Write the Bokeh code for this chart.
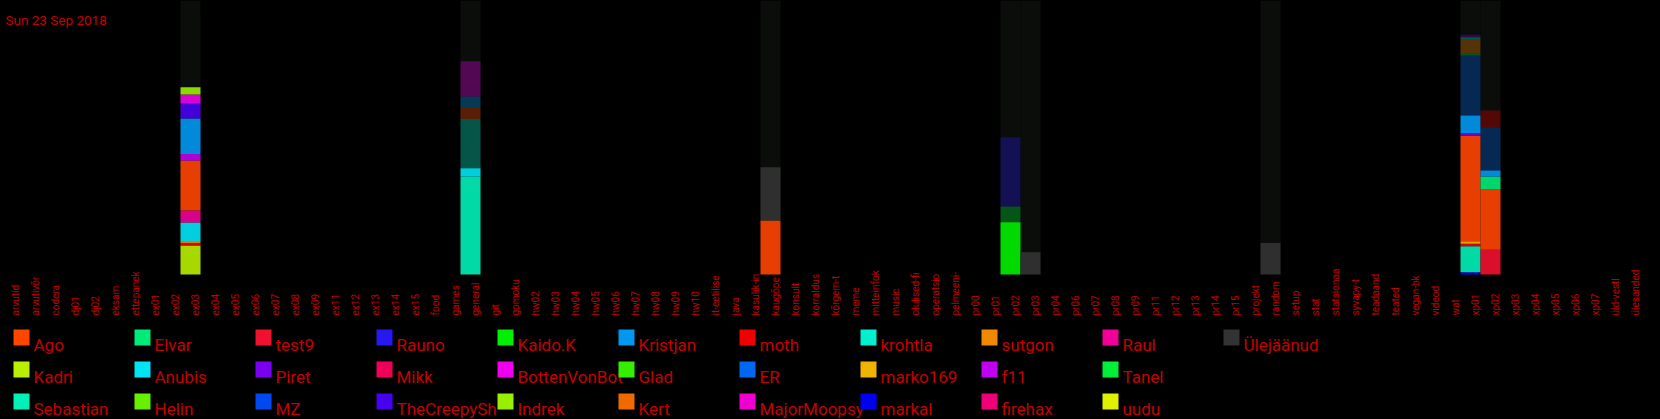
import numpy as np
from bokeh.plotting import figure
from bokeh.models import ColumnDataSource, Range1d, GlobalInlineStyleSheet
from bokeh.core.properties import value
from bokeh.embed import file_html
from bokeh.resources import INLINE

# ---------------- data ----------------
title_text = "Sun 23 Sep 2018"

channels = [
    "arvutid", "arvutivõr", "codera", "dj01", "dj02", "eksam", "ettepanek",
    "ex01", "ex02", "ex03", "ex04", "ex05", "ex06", "ex07", "ex08", "ex09",
    "ex11", "ex12", "ex13", "ex14", "ex15", "food", "games", "general", "git",
    "gomoku", "hw02", "hw03", "hw04", "hw05", "hw06", "hw07", "hw08", "hw09",
    "hw10", "it-eetilise", "java", "kasulik-in", "kaugõpe", "konsult",
    "korraldus", "kõrgem-t", "meme", "mitteinfok", "music", "olulised-fi",
    "operatsio", "pelmeeni-", "pr00", "pr01", "pr02", "pr03", "pr04", "pr06",
    "pr07", "pr08", "pr09", "pr11", "pr12", "pr13", "pr14", "pr15", "projekt",
    "random", "setup", "stat", "statsionaa", "syvapy-t", "teadaand", "teated",
    "vegan-bk", "videod", "wat", "xp01", "xp02", "xp03", "xp04", "xp05",
    "xp06", "xp07", "üld-vestl", "ülesanded",
]

# legend order (column-major, 3 rows per column)
users = [
    "Ago", "Kadri", "Sebastian",
    "Elvar", "Anubis", "Helin",
    "test9", "Piret", "MZ",
    "Rauno", "Mikk", "TheCreepySh",
    "Kaido.K", "BottenVonBot", "Indrek",
    "Kristjan", "Glad", "Kert",
    "moth", "ER", "MajorMoopsy",
    "krohtla", "marko169", "markal",
    "sutgon", "f11", "firehax",
    "Raul", "Tanel", "uudu",
    "Ülejäänud",
]
user_colors = [
    "#ff4400", "#b8f000", "#00f0b8",
    "#00ec78", "#00e4f4", "#66f000",
    "#f01030", "#7a00f0", "#0048f0",
    "#2818f0", "#f00058", "#4800f0",
    "#00f000", "#ee00ee", "#98f000",
    "#0098f0", "#34f000", "#f06a00",
    "#f00000", "#0068f0", "#f000d0",
    "#00f0d0", "#f0b400", "#0000f0",
    "#f08800", "#c000f0", "#f00078",
    "#f00098", "#00f038", "#e0f000",
    "#333333",
]

# total (background column) per active channel
active_channels = ["ex03", "general", "kaugõpe", "pr02", "pr03", "random", "xp01", "xp02"]
channel_totals = [274, 274, 274, 274, 274, 274, 274, 274]

# stacks, bottom to top: (user, count, faded)
ex03_users = ["Kadri", "moth", "sutgon", "Anubis", "Raul", "Ago", "f11", "Kristjan", "TheCreepySh", "BottenVonBot", "Indrek"]
ex03_counts = [29, 2.5, 2, 18.5, 12, 50, 6.5, 35.5, 15, 9, 7.3]
ex03_faded = [0, 0, 0, 0, 0, 0, 0, 0, 0, 0, 0]

general_users = ["Sebastian", "Anubis", "krohtla", "Ago", "Kristjan", "BottenVonBot"]
general_counts = [98, 8.3, 49.2, 12, 10.5, 35.3]
general_faded = [0, 0, 1, 1, 1, 1]

kaugope_users = ["Ago", "Ülejäänud"]
kaugope_counts = [54, 53.3]
kaugope_faded = [0, 0]

pr02_users = ["Kaido.K", "Tanel", "Rauno"]
pr02_counts = [52.3, 15.7, 69.3]
pr02_faded = [0, 1, 1]

pr03_users = ["Ülejäänud"]
pr03_counts = [22.3]
pr03_faded = [0]

random_users = ["Ülejäänud"]
random_counts = [31.6]
random_faded = [0]

xp01_users = ["markal", "Sebastian", "moth", "marko169", "Ago", "Piret", "Kristjan", "ER", "Tanel", "sutgon", "krohtla", "Piret"]
xp01_counts = [2.3, 26, 2.4, 2.6, 105.4, 2.6, 17.7, 60, 1.7, 14, 2.5, 2.5]
xp01_faded = [0, 0, 0, 0, 0, 0, 0, 1, 1, 1, 1, 1]

xp02_users = ["test9", "Ago", "Elvar", "Kristjan", "ER", "moth"]
xp02_counts = [24.7, 60.3, 13, 6, 43.3, 16.7]
xp02_faded = [0, 0, 0, 0, 1, 1]

stacks = {
    "ex03": (ex03_users, ex03_counts, ex03_faded),
    "general": (general_users, general_counts, general_faded),
    "kaugõpe": (kaugope_users, kaugope_counts, kaugope_faded),
    "pr02": (pr02_users, pr02_counts, pr02_faded),
    "pr03": (pr03_users, pr03_counts, pr03_faded),
    "random": (random_users, random_counts, random_faded),
    "xp01": (xp01_users, xp01_counts, xp01_faded),
    "xp02": (xp02_users, xp02_counts, xp02_faded),
}

# ---------------- style / layout ----------------
W, H = 1660, 419
PX_PER_CAT = 20.0
BASE_PX = 274.0          # screen y of the zero line
TEXT_RED = "#c40000"
BG_COL = "#0a0d0a"
FONT = value("Roboto")


def px2x(px):
    return px / PX_PER_CAT - 0.5


def px2y(py):
    return BASE_PX - py


p = figure(
    width=W, height=H,
    x_range=Range1d(px2x(0), px2x(W)),
    y_range=Range1d(px2y(H), px2y(0)),
    output_backend="svg", toolbar_location=None,
    x_axis_location=None, y_axis_location=None,
    min_border=0, min_border_left=0, min_border_right=0,
    min_border_top=0, min_border_bottom=0,
    background_fill_color="black", border_fill_color="black",
    outline_line_color=None,
)
p.grid.grid_line_color = None
p.stylesheets = [GlobalInlineStyleSheet(css="html, body { margin: 0 !important; padding: 0; background: #000; overflow: hidden; }")]

cat_index = {c: i for i, c in enumerate(channels)}
color_of = dict(zip(users, user_colors))

# background columns
bg_src = ColumnDataSource(dict(
    x=[cat_index[c] for c in active_channels],
    top=channel_totals,
))
p.vbar(x="x", top="top", bottom=0, width=1.0, source=bg_src,
       fill_color=BG_COL, line_color=None)

# stacked segments
sx, sb, st, sc, sa = [], [], [], [], []
for ch in active_channels:
    us, cs, fs = stacks[ch]
    bottom = 0.0
    for u, c, f in zip(us, cs, fs):
        sx.append(cat_index[ch])
        sb.append(bottom)
        st.append(bottom + c)
        sc.append(color_of[u])
        sa.append(0.32 if f else 0.9)
        bottom += c
seg_src = ColumnDataSource(dict(x=sx, bottom=sb, top=st, color=sc, alpha=sa))
p.vbar(x="x", bottom="bottom", top="top", width=1.0, source=seg_src,
       fill_color="color", fill_alpha="alpha", line_color=None)

# category labels (vertical, reading upward, bottom aligned)
p.text(x=list(range(len(channels))), y=[px2y(315)] * len(channels), text=channels,
       angle=np.pi / 2, x_offset=5, text_align="left", text_baseline="alphabetic",
       text_font=FONT, text_font_size="10px", text_color=TEXT_RED)

# title
p.text(x=[px2x(5)], y=[px2y(19)], text=[title_text], text_align="left",
       text_baseline="alphabetic", text_font=FONT, text_font_size="13.5px",
       text_color=TEXT_RED)

# legend grid
n_rows = 3
lx, ly, lt, ll, lr, lbt, lbb, lc = [], [], [], [], [], [], [], []
for k, (u, col) in enumerate(zip(users, user_colors)):
    j, r = divmod(k, n_rows)
    left = 13 + 121 * j
    top = 329 + 32 * r
    ll.append(px2x(left)); lr.append(px2x(left + 16))
    lbt.append(px2y(top)); lbb.append(px2y(top + 16))
    lc.append(col)
    lx.append(px2x(left + 20)); ly.append(px2y(top + 15)); lt.append(u)

p.text(x=lx, y=ly, text=lt, text_align="left", text_baseline="alphabetic",
       text_font=FONT, text_font_size="17px", text_color=TEXT_RED)
p.quad(left=ll, right=lr, top=lbt, bottom=lbb, fill_color=lc, line_color=None)

open("out.html", "w").write(file_html(p, INLINE))
